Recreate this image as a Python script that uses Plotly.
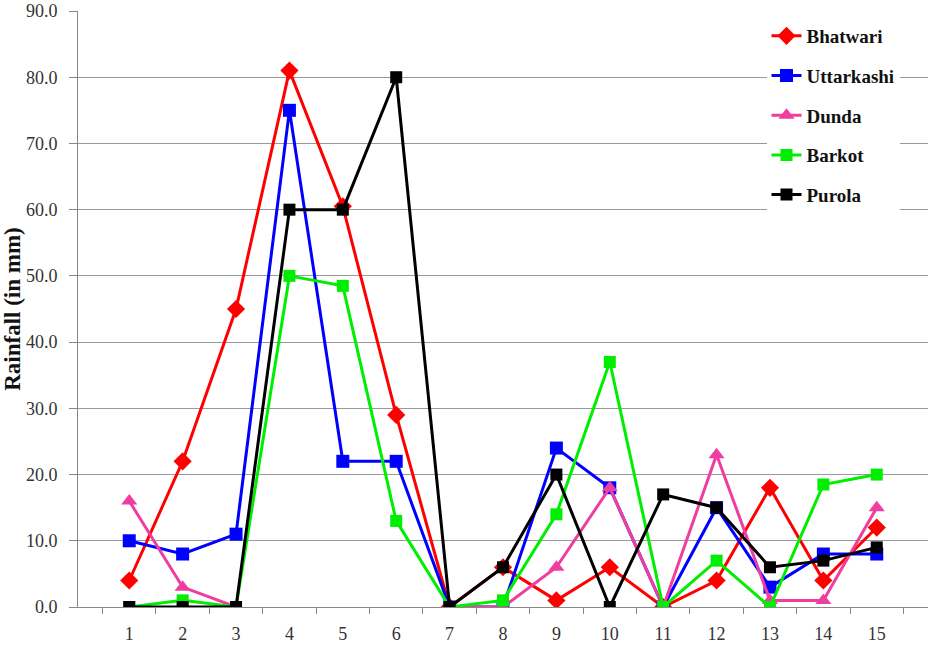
import plotly.graph_objects as go

days = [str(i) for i in range(1, 16)]
bhatwari = [4, 22, 45, 81, 60.5, 29, 0, 6, 1, 6, 0, 4, 18, 4, 12]
uttarkashi = [10, 8, 11, 75, 22, 22, 0, 0, 24, 18, 0, 15, 3, 8, 8]
dunda = [16, 3, 0, None, None, None, 0, 0, 6, 18, 0, 23, 1, 1, 15]
barkot = [0, 1, 0, 50, 48.5, 13, 0, 1, 14, 37, 0, 7, 0, 18.5, 20]
purola = [0, 0, 0, 60, 60, 80, 0, 6, 20, 0, 17, 15, 6, 7, 9]

series = [
    ("Bhatwari", bhatwari, "#ff0000", "diamond", 14),
    ("Uttarkashi", uttarkashi, "#0000ff", "square", 13),
    ("Dunda", dunda, "#ee3fa0", "triangle-up", 14),
    ("Barkot", barkot, "#00ee00", "square", 12),
    ("Purola", purola, "#000000", "square", 12),
]

fig = go.Figure()
for name, vals, color, sym, size in series:
    fig.add_trace(go.Scatter(
        x=days, y=vals, name=name, mode="lines+markers",
        line=dict(color=color, width=3),
        marker=dict(symbol=sym, size=size, color=color),
        connectgaps=False, legendgroup=name,
    ))

fig.update_layout(
    width=931, height=651,
    margin=dict(l=78, r=3, t=11, b=44, autoexpand=False),
    plot_bgcolor="white", paper_bgcolor="white",
    font=dict(family="Liberation Serif", color="#333333"),
    legend=dict(
        x=0.81, y=0.99, xanchor="left", yanchor="top",
        bgcolor="white", tracegroupgap=12,
        font=dict(family="Liberation Serif", size=19, color="#111111", weight="bold"),
        itemwidth=30,
    ),
    showlegend=True,
)
fig.update_xaxes(
    type="category", showgrid=False, showline=True, linecolor="#888888", linewidth=1,
    ticks="outside", tickson="boundaries", ticklen=6, tickcolor="#888888",
    ticklabelstandoff=10, automargin=False,
    tickfont=dict(size=18, family="Liberation Serif", color="#333333"),
)
fig.update_yaxes(
    range=[0, 90], dtick=10, tickformat=".1f",
    showgrid=True, gridcolor="#999999", gridwidth=1,
    showline=True, linecolor="#888888", linewidth=1,
    ticks="outside", ticklen=8, tickcolor="#888888",
    ticklabelstandoff=8, ticklabeloverflow="allow", automargin=False,
    tickfont=dict(size=18, family="Liberation Serif", color="#333333"),
    title=dict(text="Rainfall (in mm)", standoff=2,
               font=dict(size=23, family="Liberation Serif", color="#111111", weight="bold")),
    zeroline=False,
)

fig.write_html("out.html")
